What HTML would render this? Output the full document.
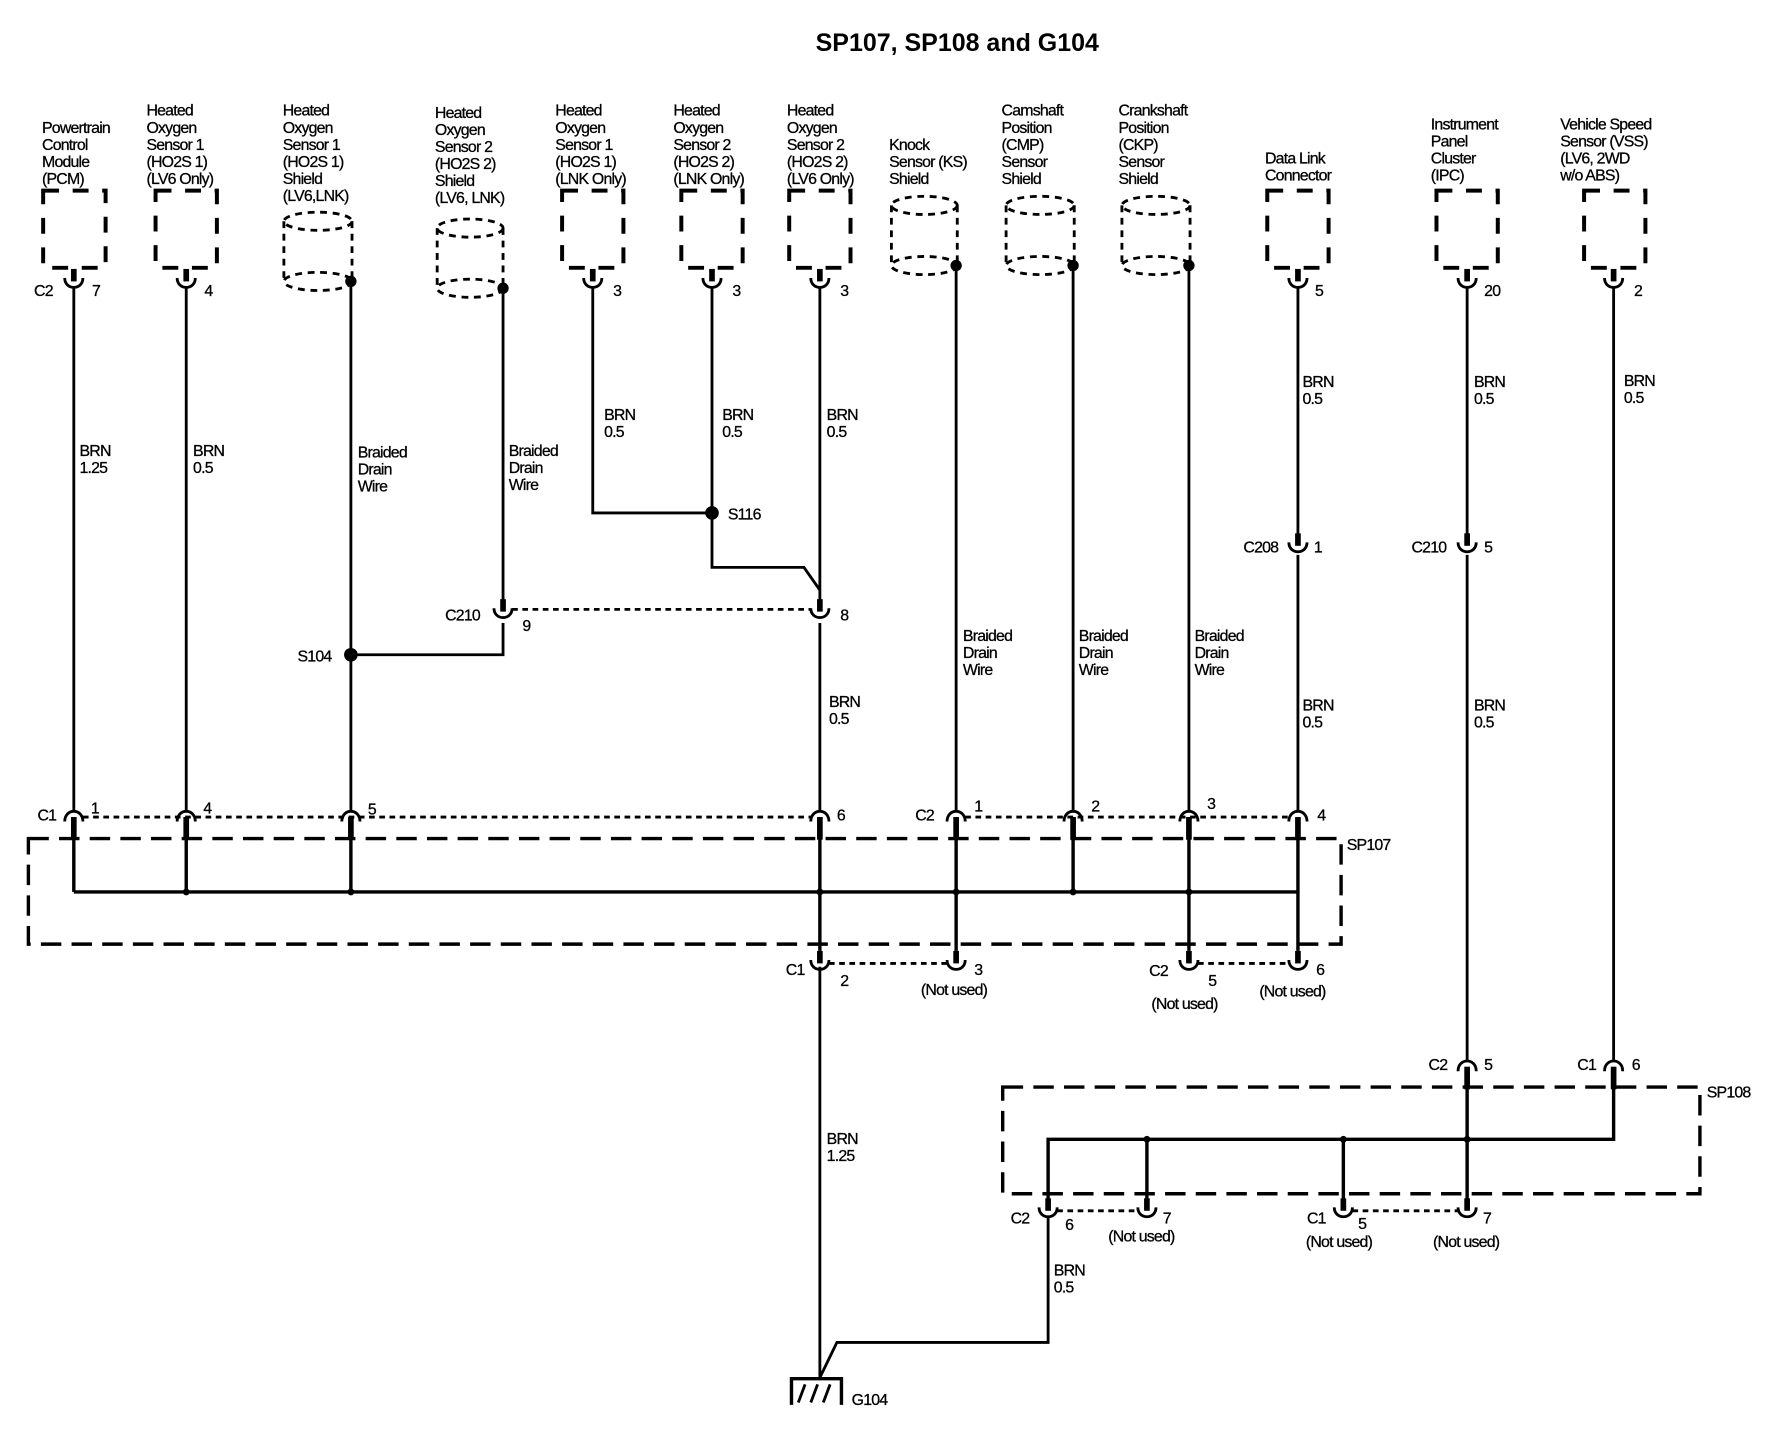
<!DOCTYPE html>
<html><head><meta charset="utf-8"><style>
html,body{margin:0;padding:0;background:#fff;}
svg{display:block;}
text{font-family:"Liberation Sans",Arial,sans-serif;font-size:14px;letter-spacing:-0.7px;fill:#000;stroke:#000;stroke-width:0.25;}
.t{font-size:22px;font-weight:bold;letter-spacing:0;stroke-width:0;}
.w{stroke:#000;stroke-width:2.5;fill:none;}
.b{stroke:#000;stroke-width:3;fill:none;}
.d{stroke:#000;stroke-width:3;fill:none;stroke-dasharray:18 9;}
.dt{stroke:#000;stroke-width:2.5;fill:none;stroke-dasharray:5 4;}
.bx{stroke:#000;stroke-width:3.5;fill:none;stroke-dasharray:14 12;}
.cy{stroke:#000;stroke-width:2.5;fill:none;stroke-dasharray:6 5;}
</style></head><body>
<svg width="1776" height="1440" viewBox="0 0 1564 1269" preserveAspectRatio="none" xmlns="http://www.w3.org/2000/svg">
<defs>
<g id="fu"><line x1="0" y1="-14" x2="0" y2="-3" stroke="#000" stroke-width="5"/><path d="M-8,-6 C-8,5 8,5 8,-6" class="w"/></g>
<g id="md"><line x1="0" y1="2" x2="0" y2="22" stroke="#000" stroke-width="5"/><path d="M-8,6 C-8,-6 8,-6 8,6" class="w"/></g>
</defs>
<text x="843" y="45" class="t" text-anchor="middle">SP107, SP108 and G104</text>

<!-- headers -->
<text x="37" y="117">Powertrain</text><text x="37" y="132">Control</text><text x="37" y="147">Module</text><text x="37" y="162">(PCM)</text>
<text x="129" y="102">Heated</text><text x="129" y="117">Oxygen</text><text x="129" y="132">Sensor 1</text><text x="129" y="147">(HO2S 1)</text><text x="129" y="162">(LV6 Only)</text>
<text x="249" y="102">Heated</text><text x="249" y="117">Oxygen</text><text x="249" y="132">Sensor 1</text><text x="249" y="147">(HO2S 1)</text><text x="249" y="162">Shield</text><text x="249" y="177">(LV6,LNK)</text>
<text x="383" y="104">Heated</text><text x="383" y="119">Oxygen</text><text x="383" y="134">Sensor 2</text><text x="383" y="149">(HO2S 2)</text><text x="383" y="164">Shield</text><text x="383" y="179">(LV6, LNK)</text>
<text x="489" y="102">Heated</text><text x="489" y="117">Oxygen</text><text x="489" y="132">Sensor 1</text><text x="489" y="147">(HO2S 1)</text><text x="489" y="162">(LNK Only)</text>
<text x="593" y="102">Heated</text><text x="593" y="117">Oxygen</text><text x="593" y="132">Sensor 2</text><text x="593" y="147">(HO2S 2)</text><text x="593" y="162">(LNK Only)</text>
<text x="693" y="102">Heated</text><text x="693" y="117">Oxygen</text><text x="693" y="132">Sensor 2</text><text x="693" y="147">(HO2S 2)</text><text x="693" y="162">(LV6 Only)</text>
<text x="783" y="132">Knock</text><text x="783" y="147">Sensor (KS)</text><text x="783" y="162">Shield</text>
<text x="882" y="102">Camshaft</text><text x="882" y="117">Position</text><text x="882" y="132">(CMP)</text><text x="882" y="147">Sensor</text><text x="882" y="162">Shield</text>
<text x="985" y="102">Crankshaft</text><text x="985" y="117">Position</text><text x="985" y="132">(CKP)</text><text x="985" y="147">Sensor</text><text x="985" y="162">Shield</text>
<text x="1114" y="144">Data Link</text><text x="1114" y="159">Connector</text>
<text x="1260" y="114">Instrument</text><text x="1260" y="129">Panel</text><text x="1260" y="144">Cluster</text><text x="1260" y="159">(IPC)</text>
<text x="1374" y="114">Vehicle Speed</text><text x="1374" y="129">Sensor (VSS)</text><text x="1374" y="144">(LV6, 2WD</text><text x="1374" y="159">w/o ABS)</text>

<!-- component boxes -->
<g class="bx">
<rect x="38" y="168" width="55" height="68"/><rect x="137" y="168" width="54" height="68"/>
<rect x="495" y="168" width="54" height="68"/><rect x="600" y="168" width="54" height="68"/>
<rect x="695" y="168" width="54" height="68"/><rect x="1116" y="168" width="54" height="68"/>
<rect x="1265" y="168" width="54" height="68"/><rect x="1395" y="168" width="54" height="68"/>
</g>
<!-- cylinders -->
<g class="cy">
<ellipse cx="280" cy="195" rx="30" ry="8"/><ellipse cx="280" cy="248" rx="30" ry="8"/><line x1="250" y1="195" x2="250" y2="248"/><line x1="310" y1="195" x2="310" y2="248"/>
<ellipse cx="414" cy="201" rx="29" ry="8"/><ellipse cx="414" cy="254" rx="29" ry="8"/><line x1="385" y1="201" x2="385" y2="254"/><line x1="443" y1="201" x2="443" y2="254"/>
<ellipse cx="814" cy="181" rx="29" ry="8"/><ellipse cx="814" cy="234" rx="29" ry="8"/><line x1="785" y1="181" x2="785" y2="234"/><line x1="843" y1="181" x2="843" y2="234"/>
<ellipse cx="916" cy="181" rx="30" ry="8"/><ellipse cx="916" cy="234" rx="30" ry="8"/><line x1="886" y1="181" x2="886" y2="234"/><line x1="946" y1="181" x2="946" y2="234"/>
<ellipse cx="1018" cy="181" rx="30" ry="8"/><ellipse cx="1018" cy="234" rx="30" ry="8"/><line x1="988" y1="181" x2="988" y2="234"/><line x1="1048" y1="181" x2="1048" y2="234"/>
</g>
<g fill="#000"><circle cx="309" cy="248" r="5"/><circle cx="443" cy="254" r="5"/><circle cx="842" cy="234" r="5"/><circle cx="945" cy="234" r="5"/><circle cx="1047" cy="234" r="5"/>
<circle cx="627" cy="452" r="6"/><circle cx="309" cy="577" r="6"/></g>

<!-- top connectors -->
<use href="#fu" x="65" y="251"/><use href="#fu" x="164" y="251"/><use href="#fu" x="522" y="251"/><use href="#fu" x="627" y="251"/><use href="#fu" x="722" y="251"/><use href="#fu" x="1143" y="251"/><use href="#fu" x="1292" y="251"/><use href="#fu" x="1421" y="251"/>
<text x="30" y="261">C2</text><text x="81" y="261">7</text><text x="180" y="261">4</text><text x="540" y="261">3</text><text x="645" y="261">3</text><text x="740" y="261">3</text><text x="1158" y="261">5</text><text x="1307" y="261">20</text><text x="1439" y="261">2</text>

<!-- wires -->
<g class="w">
<line x1="65" y1="254" x2="65" y2="714"/><line x1="164" y1="254" x2="164" y2="714"/>
<line x1="309" y1="248" x2="309" y2="714"/>
<polyline points="443,254 443,536"/><polyline points="443,549 443,577 309,577"/>
<polyline points="522,254 522,452 627,452"/>
<polyline points="627,254 627,500 708,500 722,520"/>
<line x1="722" y1="254" x2="722" y2="536"/>
<line x1="722" y1="549" x2="722" y2="714"/>
<line x1="842" y1="234" x2="842" y2="714"/><line x1="945" y1="234" x2="945" y2="714"/><line x1="1047" y1="234" x2="1047" y2="714"/>
<line x1="1143" y1="254" x2="1143" y2="478"/><line x1="1143" y1="489" x2="1143" y2="714"/>
<line x1="1292" y1="254" x2="1292" y2="478"/><line x1="1292" y1="489" x2="1292" y2="934"/>
<line x1="1421" y1="254" x2="1421" y2="934"/>
<line x1="722" y1="852" x2="722" y2="1214"/>
<polyline points="722,1214 737,1183 923,1183 923,1072"/>
</g>
<!-- mid connectors -->
<use href="#fu" x="443" y="542"/><use href="#fu" x="722" y="542"/><use href="#fu" x="1143" y="484"/><use href="#fu" x="1292" y="484"/>
<line x1="451" y1="537" x2="714" y2="537" class="dt"/>
<text x="392" y="547">C210</text><text x="460" y="556">9</text><text x="740" y="547">8</text>
<text x="1095" y="487">C208</text><text x="1157" y="487">1</text><text x="1243" y="487">C210</text><text x="1307" y="487">5</text>
<text x="262" y="583">S104</text><text x="641" y="458">S116</text>

<!-- wire labels -->
<text x="70" y="402">BRN</text><text x="70" y="417">1.25</text>
<text x="170" y="402">BRN</text><text x="170" y="417">0.5</text>
<text x="315" y="403">Braided</text><text x="315" y="418">Drain</text><text x="315" y="433">Wire</text>
<text x="448" y="402">Braided</text><text x="448" y="417">Drain</text><text x="448" y="432">Wire</text>
<text x="532" y="370">BRN</text><text x="532" y="385">0.5</text>
<text x="636" y="370">BRN</text><text x="636" y="385">0.5</text>
<text x="728" y="370">BRN</text><text x="728" y="385">0.5</text>
<text x="730" y="623">BRN</text><text x="730" y="638">0.5</text>
<text x="848" y="565">Braided</text><text x="848" y="580">Drain</text><text x="848" y="595">Wire</text>
<text x="950" y="565">Braided</text><text x="950" y="580">Drain</text><text x="950" y="595">Wire</text>
<text x="1052" y="565">Braided</text><text x="1052" y="580">Drain</text><text x="1052" y="595">Wire</text>
<text x="1147" y="341">BRN</text><text x="1147" y="356">0.5</text><text x="1147" y="626">BRN</text><text x="1147" y="641">0.5</text>
<text x="1298" y="341">BRN</text><text x="1298" y="356">0.5</text><text x="1298" y="626">BRN</text><text x="1298" y="641">0.5</text>
<text x="1430" y="340">BRN</text><text x="1430" y="355">0.5</text>
<text x="728" y="1008">BRN</text><text x="728" y="1023">1.25</text>
<text x="928" y="1124">BRN</text><text x="928" y="1139">0.5</text>

<!-- C1/C2 row above SP107 -->
<line x1="73" y1="720" x2="714" y2="720" class="dt"/><line x1="850" y1="720" x2="1135" y2="720" class="dt"/>
<use href="#md" x="65" y="718"/><use href="#md" x="164" y="718"/><use href="#md" x="309" y="718"/><use href="#md" x="722" y="718"/>
<use href="#md" x="842" y="718"/><use href="#md" x="945" y="718"/><use href="#md" x="1047" y="718"/><use href="#md" x="1143" y="718"/>
<text x="33" y="723">C1</text><text x="80" y="717">1</text><text x="179" y="717">4</text><text x="324" y="718">5</text><text x="737" y="723">6</text>
<text x="806" y="723">C2</text><text x="858" y="715">1</text><text x="961" y="715">2</text><text x="1063" y="713">3</text><text x="1160" y="723">4</text>

<!-- SP107 -->
<rect x="25" y="739" width="1156" height="93" class="d"/>
<text x="1186" y="749">SP107</text>
<g class="b">
<line x1="65" y1="786" x2="1143" y2="786"/>
<line x1="65" y1="736" x2="65" y2="786"/><line x1="164" y1="736" x2="164" y2="786"/><line x1="309" y1="736" x2="309" y2="786"/>
<line x1="722" y1="736" x2="722" y2="838"/><line x1="842" y1="736" x2="842" y2="838"/><line x1="945" y1="736" x2="945" y2="786"/>
<line x1="1047" y1="736" x2="1047" y2="838"/><line x1="1143" y1="736" x2="1143" y2="838"/>
</g>
<g fill="#000"><circle cx="164" cy="786" r="3"/><circle cx="309" cy="786" r="3"/><circle cx="722" cy="786" r="3"/><circle cx="842" cy="786" r="3"/><circle cx="945" cy="786" r="3"/><circle cx="1047" cy="786" r="3"/></g>
<use href="#fu" x="722" y="852"/><use href="#fu" x="842" y="852"/><use href="#fu" x="1047" y="852"/><use href="#fu" x="1143" y="852"/>
<line x1="730" y1="849" x2="834" y2="849" class="dt"/><line x1="1055" y1="849" x2="1135" y2="849" class="dt"/>
<text x="692" y="859">C1</text><text x="740" y="869">2</text><text x="858" y="859">3</text><text x="811" y="877">(Not used)</text>
<text x="1012" y="860">C2</text><text x="1064" y="869">5</text><text x="1014" y="889">(Not used)</text>
<text x="1159" y="859">6</text><text x="1109" y="878">(Not used)</text>

<!-- SP108 -->
<use href="#md" x="1292" y="938"/><use href="#md" x="1421" y="938"/>
<text x="1258" y="943">C2</text><text x="1307" y="943">5</text><text x="1389" y="943">C1</text><text x="1437" y="943">6</text>
<rect x="883" y="958" width="614" height="94" class="d"/>
<text x="1503" y="967">SP108</text>
<g class="b">
<polyline points="923,1062 923,1004 1421,1004 1421,955"/>
<line x1="1292" y1="955" x2="1292" y2="1062"/><line x1="1010" y1="1004" x2="1010" y2="1062"/><line x1="1183" y1="1004" x2="1183" y2="1062"/>
</g>
<g fill="#000"><circle cx="1010" cy="1004" r="3"/><circle cx="1183" cy="1004" r="3"/><circle cx="1292" cy="1004" r="3"/></g>
<use href="#fu" x="923" y="1070"/><use href="#fu" x="1010" y="1070"/><use href="#fu" x="1183" y="1070"/><use href="#fu" x="1292" y="1070"/>
<line x1="931" y1="1067" x2="1002" y2="1067" class="dt"/><line x1="1191" y1="1067" x2="1284" y2="1067" class="dt"/>
<text x="890" y="1078">C2</text><text x="938" y="1084">6</text><text x="1024" y="1078">7</text><text x="976" y="1094">(Not used)</text>
<text x="1151" y="1078">C1</text><text x="1196" y="1083">5</text><text x="1150" y="1099">(Not used)</text>
<text x="1306" y="1078">7</text><text x="1262" y="1099">(Not used)</text>

<!-- ground G104 -->
<g class="b" stroke-width="3.5">
<polyline points="697,1238 697,1215 741,1215 741,1238"/>
</g>
<g class="w"><line x1="703" y1="1236" x2="709" y2="1220"/><line x1="714" y1="1236" x2="720" y2="1220"/><line x1="725" y1="1236" x2="731" y2="1220"/></g>
<text x="750" y="1238">G104</text>
</svg>
</body></html>
